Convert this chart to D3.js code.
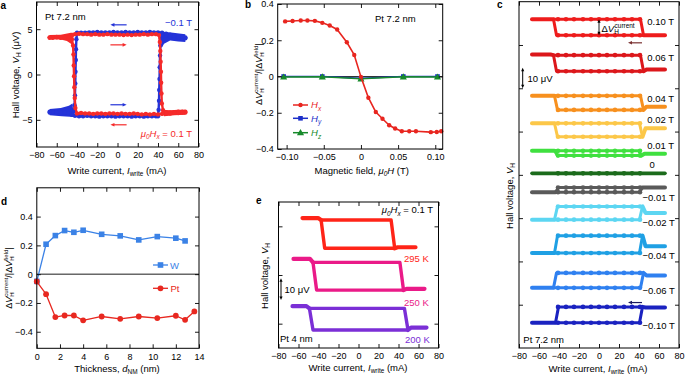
<!DOCTYPE html>
<html><head><meta charset="utf-8">
<script src="https://cdn.jsdelivr.net/npm/d3@7"></script>
<style>body{margin:0;background:#fff}</style>
</head><body><svg id="c" width="685" height="376"></svg>
<script>
// ---------------- DATA ----------------
// Panel a: Hall voltage (uV) vs write current (mA); red = +0.1 T, blue = -0.1 T
const aRedUp = [[-67,4.1],[-64,4.1],[-60,4.15],[-56,4.1],[-52,4.15],[-48,4.2],[-45,4.3],[-42,4.45],[-38,4.5],[-34,4.45],[-30,4.45],[-26,4.4],[-22,4.45],[-18,4.4],[-14,4.4],[-10,4.45],[-6,4.4],[-2,4.4],[2,4.4],[6,4.35],[10,4.4],[14,4.35],[18,4.4],[22,4.4],[26,4.45],[30,4.4],[34,4.45],[38,4.45],[41,4.35],[41.8,3.6],[42.3,2.6],[42.6,1.4],[42.9,0.3],[43.1,-0.9],[43.4,-2.1],[43.8,-3.2],[45,-3.95],[48,-4.2],[52,-4.2],[56,-4.15],[60,-4.1],[64,-4.1],[67,-4.1]];
const aRedDown = [[67,-4.2],[64,-4.2],[60,-4.25],[56,-4.2],[52,-4.3],[48,-4.3],[44,-4.35],[40,-4.4],[36,-4.35],[32,-4.4],[28,-4.35],[24,-4.4],[20,-4.35],[16,-4.3],[12,-4.35],[8,-4.35],[4,-4.3],[0,-4.35],[-4,-4.3],[-8,-4.3],[-12,-4.35],[-16,-4.3],[-20,-4.3],[-24,-4.35],[-28,-4.3],[-32,-4.3],[-36,-4.25],[-40,-4.3],[-41.6,-3.7],[-42.2,-2.6],[-42.6,-1.4],[-42.9,-0.2],[-43.2,1.0],[-43.5,2.2],[-43.9,3.2],[-45,3.9],[-48,4.05],[-52,4.1],[-56,4.05],[-60,4.1],[-64,4.05],[-67,4.05]];
const aBlueUp = [[-67,-4.1],[-64,-4.1],[-60,-4.15],[-56,-4.2],[-52,-4.25],[-48,-4.3],[-45,-4.45],[-42,-4.55],[-38,-4.6],[-34,-4.6],[-30,-4.55],[-26,-4.6],[-22,-4.6],[-18,-4.65],[-14,-4.6],[-10,-4.6],[-6,-4.6],[-2,-4.65],[2,-4.6],[6,-4.6],[10,-4.6],[14,-4.65],[18,-4.6],[22,-4.6],[26,-4.65],[30,-4.6],[34,-4.6],[38,-4.6],[40,-4.6],[40.6,-3.9],[41,-2.9],[41.2,-1.7],[41.5,-0.5],[41.7,0.8],[42,2.1],[42.3,3.2],[43,4.0],[45,4.4],[48,4.3],[52,4.2],[56,4.1],[60,4.05],[64,4.0],[67,4.0]];
const aBlueDown = [[67,4.1],[64,4.15],[60,4.2],[56,4.3],[52,4.4],[48,4.5],[44,4.6],[40,4.65],[36,4.65],[32,4.7],[28,4.65],[24,4.65],[20,4.7],[16,4.65],[12,4.65],[8,4.7],[4,4.65],[0,4.65],[-4,4.7],[-8,4.65],[-12,4.65],[-16,4.65],[-20,4.7],[-24,4.65],[-28,4.65],[-32,4.6],[-36,4.6],[-40,4.6],[-40.6,3.9],[-41,2.8],[-41.2,1.6],[-41.5,0.3],[-41.7,-1.0],[-42,-2.3],[-42.4,-3.4],[-43,-4.1],[-45,-4.35],[-48,-4.25],[-52,-4.2],[-56,-4.2],[-60,-4.15],[-64,-4.15],[-67,-4.2]];
const aRedFlare = [[-67,4.35],[-56,4.4],[-46,4.6],[-44,4.6],[-44.5,3.2],[-46,3.4],[-50,3.7],[-56,3.85],[-67,3.9]];
const aRedFlareR = [[44,-3.9],[52,-3.95],[60,-3.9],[67,-3.9],[67,-4.45],[56,-4.5],[46,-4.6]];
const aBlueFlare = [[43,4.75],[55,4.6],[67,4.45],[67,3.6],[60,3.65],[52,3.75],[46,3.4],[44,3.0]];
const aBlueFlareL = [[-67,-3.8],[-56,-3.7],[-48,-3.45],[-44.5,-3.2],[-43,-4.7],[-55,-4.6],[-67,-4.5]];
const aXTicks = [-80,-60,-40,-20,0,20,40,60,80];
const aYTicks = [-5,0,5];

// Panel b
const bHxField = [-0.102,-0.092,-0.081,-0.072,-0.062,-0.052,-0.042,-0.032,-0.019,-0.009,0.0,0.010,0.020,0.029,0.038,0.046,0.055,0.065,0.074,0.094,0.102,0.108];
const bHxRatio = [0.304,0.306,0.309,0.309,0.307,0.296,0.281,0.259,0.189,0.119,-0.002,-0.117,-0.196,-0.233,-0.269,-0.287,-0.302,-0.302,-0.302,-0.307,-0.306,-0.302];
const bHyField = [-0.104,-0.052,0.0,0.057,0.103];
const bHyRatio = [0.0,0.0,-0.01,0.0,0.0];
const bHzField = [-0.104,-0.052,0.0,0.057,0.103];
const bHzRatio = [-0.003,-0.002,-0.013,-0.002,-0.003];
const bXTicks = [-0.10,-0.05,0,0.05,0.10];
const bXLabels = ["\u22120.10","\u22120.05","0","0.05","0.10"];
const bYTicks = [-0.4,-0.2,0,0.2,0.4];

// Panel c
const cLabels = ["0.10 T","0.06 T","0.04 T","0.02 T","0.01 T","0","\u22120.01 T","\u22120.02 T","\u22120.04 T","\u22120.06 T","\u22120.10 T"];
const cColors = ["#ee1c1c","#dc171b","#f7901e","#fcc748","#3fe03f","#1b6b1b","#5a5a5a","#5cd6f2","#1fa0e4","#2f80f0","#1a22c0"];
const cTop = [71.9,55.3,36.5,23.8,11.1,0.7,-5.9,-14.6,-28.1,-45.3,-61.0];
const cBottom = [64.5,47.9,30.0,17.6,8.9,0.7,-8.0,-20.7,-36.1,-52.2,-68.3];
const cLeftTail = [71.9,55.6,36.5,23.8,11.1,0.7,-8.0,-20.7,-36.1,-52.2,-68.3];
const cRightTail = [64.5,48.7,31.5,21.5,9.7,0.7,-5.9,-17.6,-33.0,-46.5,-61.3];
const cSwL = [-44,-44,-43,-43,-43,0,-42,-43,-43,-44,-42];
const cSwR = [43,43,43,42,41,0,42,42,42,43,42];
const cDotI = [-41,-33,-25,-16,-8,0,8,16,25,33,41];
const cXTicks = [-80,-60,-40,-20,0,20,40,60,80];
const cYTicks = [-60,-40,-20,0,20,40,60];

// Panel d
const dThick = [0,0.8,1.6,2.4,3.2,4.0,5.6,7.2,8.8,10.4,12.0,12.8];
const dW = [-0.05,0.208,0.268,0.303,0.291,0.305,0.277,0.266,0.238,0.261,0.25,0.231];
const dThickPt = [0,0.8,1.6,2.4,3.2,4.0,5.6,7.2,8.8,10.4,12.0,12.8,13.6];
const dPt = [-0.051,-0.139,-0.298,-0.287,-0.287,-0.321,-0.294,-0.31,-0.294,-0.305,-0.289,-0.317,-0.259];
const dXTicks = [0,2,4,6,8,10,12,14];
const dYTicks = [-0.4,-0.2,0,0.2,0.4];

// Panel e
const eLabels = ["295 K","250 K","200 K"];
const eColors = ["#ff2418","#ea1a88","#7b2fd6"];
const eTop = [22.6,5.2,-13.7];
const eBottom = [11.0,-6.2,-22.6];
const eLeftTail = [23.4,6.6,-12.8];
const eRightTail = [11.4,-5.7,-21.6];
const eStart = [-56,-65,-66];
const eEnd = [57,66,68];
const eSwL = [-35.6,-43.7,-47.3];
const eSwR = [34.4,43.2,47.7];
const eXTicks = [-80,-60,-40,-20,0,20,40,60,80];
const eYTicks = [-20,0,20];

// ---------------- DRAWING ----------------
const FONT = '"Liberation Sans", Arial, Helvetica, sans-serif';
const svg = d3.select("#c");
svg.append("rect").attr("width",685).attr("height",376).attr("fill","#fff");
const fmtMinus = d => (d<0?"\u2212":"") + Math.abs(d);

function frame(x, y, o) {
  const g = svg.append("g");
  const [x0,x1] = x.range(), [y0,y1] = y.range();
  const ax = (gen, tr) => { const a = g.append("g").attr("transform",tr).call(gen);
    a.select(".domain").remove(); a.selectAll("line").attr("stroke","#000").attr("stroke-width",0.9);
    a.selectAll("text").attr("font-family",FONT).attr("font-size",9).attr("fill","#000"); return a; };
  ax(d3.axisBottom(x).tickValues(o.xTicks).tickFormat(o.xFmt).tickSizeInner(-4).tickSizeOuter(0).tickPadding(5), `translate(0,${y0})`);
  ax(d3.axisTop(x).tickValues(o.xTicks).tickFormat("").tickSizeInner(-4).tickSizeOuter(0), `translate(0,${y1})`);
  ax(d3.axisLeft(y).tickValues(o.yTicks).tickFormat(o.yFmt || (()=>"")).tickSizeInner(-4).tickSizeOuter(0).tickPadding(4), `translate(${x0},0)`);
  ax(d3.axisRight(y).tickValues(o.yTicks).tickFormat("").tickSizeInner(-4).tickSizeOuter(0), `translate(${x1},0)`);
  g.append("rect").attr("x",x0).attr("y",y1).attr("width",x1-x0).attr("height",y0-y1)
    .attr("fill","none").attr("stroke","#000").attr("stroke-width",1);
  return g;
}

function rich(x, y, parts, o={}) {
  const size = o.size || 9.5;
  const t = svg.append("text").attr("x",x).attr("y",y).attr("font-family",FONT).attr("font-size",size)
    .attr("fill",o.fill||"#000").attr("text-anchor",o.anchor||"start");
  if (o.rotate) t.attr("transform",`rotate(-90,${x},${y})`);
  if (o.bold) t.attr("font-weight","bold");
  if (o.central) t.attr("dominant-baseline","central");
  let shift = 0;
  parts.forEach(p => {
    if (typeof p === "string") p = {t:p};
    const s = t.append("tspan").text(p.t);
    const target = p.sub ? 2.4 : p.sup ? -3.6 : 0;
    if (target !== shift) { s.attr("dy", target - shift); shift = target; }
    if (p.sub || p.sup) s.attr("font-size", size*0.68);
    if (p.i) s.attr("font-style","italic");
    if (p.dx) s.attr("dx", p.dx);
  });
  return t;
}

function head(x, y, ang, color, s=4) {
  const c = Math.cos(ang), sn = Math.sin(ang);
  const p1 = [x - s*c + s*0.45*sn, y - s*sn - s*0.45*c];
  const p2 = [x - s*c - s*0.45*sn, y - s*sn + s*0.45*c];
  svg.append("path").attr("d",`M${x},${y}L${p1[0]},${p1[1]}L${p2[0]},${p2[1]}Z`).attr("fill",color);
}
function arrow(x1,y1,x2,y2,color,both,w=1.2,s=4) {
  const ang = Math.atan2(y2-y1,x2-x1), c=Math.cos(ang), sn=Math.sin(ang);
  svg.append("line").attr("x1",both?x1+c*s*0.8:x1).attr("y1",both?y1+sn*s*0.8:y1)
    .attr("x2",x2-c*s*0.8).attr("y2",y2-sn*s*0.8).attr("stroke",color).attr("stroke-width",w);
  head(x2,y2,ang,color,s);
  if (both) head(x1,y1,ang+Math.PI,color,s);
}

function trace(g, pts, x, y, color, w) {
  g.append("path").attr("d", d3.line().x(d=>x(d[0])).y(d=>y(d[1]))(pts))
    .attr("fill","none").attr("stroke",color).attr("stroke-width",w)
    .attr("stroke-linejoin","round").attr("stroke-linecap","round");
}
function dots(g, pts, x, y, color, r) {
  g.selectAll(null).data(pts).enter().append("circle")
    .attr("cx",d=>x(d[0])).attr("cy",d=>y(d[1])).attr("r",r).attr("fill",color);
}
function area(g, pts, x, y, color) {
  g.append("path").attr("d", d3.line().x(d=>x(d[0])).y(d=>y(d[1]))(pts)+"Z").attr("fill",color);
}

// ---------- Panel a ----------
{
  const x = d3.scaleLinear([-80,80],[36.5,198.5]);
  const y = d3.scaleLinear([-8,8],[147,2]);
  const g = svg.append("g");
  const blue = "#2433d8", red = "#f52a2a";
  area(g, aBlueFlare, x, y, blue); area(g, aBlueFlareL, x, y, blue);
  trace(g, aBlueUp, x, y, blue, 2.4); trace(g, aBlueDown, x, y, blue, 2.4);
  dots(g, aBlueUp.concat(aBlueDown), x, y, blue, 2.2);
  area(g, aRedFlare, x, y, red); area(g, aRedFlareR, x, y, red);
  trace(g, aRedUp, x, y, red, 2.4); trace(g, aRedDown, x, y, red, 2.4);
  dots(g, aRedUp.concat(aRedDown), x, y, red, 2.2);
  frame(x, y, {xTicks:aXTicks, xFmt:fmtMinus, yTicks:aYTicks, yFmt:fmtMinus});
  arrow(x(9), y(5.48), x(-7), y(5.48), blue);
  arrow(x(-7), y(3.27), x(9), y(3.27), red);
  arrow(x(-7), y(-3.34), x(9), y(-3.34), blue);
  arrow(x(9), y(-5.55), x(-7), y(-5.55), red);
  rich(45, 20, ["Pt 7.2 nm"]);
  rich(192, 26, ["\u22120.1 T"], {fill:blue, anchor:"end"});
  rich(192, 136.5, [{t:"\u03bc",i:true},{t:"0",sub:true,i:true},{t:"H",i:true},{t:"x",sub:true,i:true},{t:" = 0.1 T"}], {fill:red, anchor:"end"});
  rich(19, 75, ["Hall voltage, ",{t:"V",i:true},{t:"H",sub:true}," (\u03bcV)"], {rotate:true, anchor:"middle"});
  rich(117, 173.5, ["Write current, ",{t:"I",i:true},{t:"write",sub:true}," (mA)"], {anchor:"middle"});
  rich(0.5, 9, ["a"], {bold:true, size:10});
}

// ---------- Panel b ----------
{
  const x = d3.scaleLinear([-0.112,0.11],[277.7,442.7]);
  const y = d3.scaleLinear([-0.4,0.4],[149,4]);
  const g = svg.append("g");
  const red = "#e8251f", blue = "#1c2fc9", green = "#178a2b";
  g.append("line").attr("x1",x.range()[0]).attr("x2",x.range()[1]).attr("y1",y(0)).attr("y2",y(0)).attr("stroke","#000").attr("stroke-width",0.8);
  const hx = bHxField.map((f,i)=>[f,bHxRatio[i]]);
  const hy = bHyField.map((f,i)=>[f,bHyRatio[i]]);
  const hz = bHzField.map((f,i)=>[f,bHzRatio[i]]);
  trace(g, hy, x, y, blue, 1.5);
  g.selectAll(null).data(hy).enter().append("rect").attr("x",d=>x(d[0])-2.3).attr("y",d=>y(d[1])-2.3).attr("width",4.6).attr("height",4.6).attr("fill",blue);
  trace(g, hz, x, y, green, 1.5);
  g.selectAll(null).data(hz).enter().append("path").attr("d",d3.symbol(d3.symbolTriangle,22)).attr("transform",d=>`translate(${x(d[0])},${y(d[1])+0.5})`).attr("fill",green);
  trace(g, hx, x, y, red, 1.6);
  dots(g, hx, x, y, red, 2.2);
  frame(x, y, {xTicks:bXTicks, xFmt:(d,i)=>bXLabels[i], yTicks:bYTicks, yFmt:d=>d===0?"0":(d<0?"\u2212":"")+Math.abs(d).toFixed(1)});
  const leg = [["x",red,"c",105],["y",blue,"s",118.3],["z",green,"t",132.7]];
  leg.forEach(([s,col,m,ly])=>{
    svg.append("line").attr("x1",293).attr("x2",308).attr("y1",ly).attr("y2",ly).attr("stroke",col).attr("stroke-width",1.5);
    if (m==="c") svg.append("circle").attr("cx",300.5).attr("cy",ly).attr("r",2.2).attr("fill",col);
    if (m==="s") svg.append("rect").attr("x",298.2).attr("y",ly-2.3).attr("width",4.6).attr("height",4.6).attr("fill",col);
    if (m==="t") svg.append("path").attr("d",d3.symbol(d3.symbolTriangle,22)).attr("transform",`translate(300.5,${ly+0.5})`).attr("fill",col);
    rich(311, ly+3.4, [{t:"H",i:true},{t:s,sub:true,i:true}], {fill:col});
  });
  rich(375, 22, ["Pt 7.2 nm"]);
  rich(262, 74, ["\u0394",{t:"V",i:true},{t:"H",sub:true},{t:"current",sup:true,dx:-4.3},"/|\u0394",{t:"V",i:true},{t:"H",sub:true},{t:"field",sup:true,dx:-4.3},"|"], {rotate:true, anchor:"middle", size:9});
  rich(361.7, 173.5, ["Magnetic field, ",{t:"\u03bc",i:true},{t:"0",sub:true,i:true},{t:"H",i:true}," (T)"], {anchor:"middle"});
  rich(245, 8, ["b"], {bold:true, size:10});
}

// loop builder (data -> polylines)
function buildLoop(top,bottom,lt,rt,swL,swR,start,end,sl) {
  const positive = Math.abs(lt-top) <= Math.abs(lt-bottom);
  if (positive) return {
    loop:[[swL-sl,top],[swR-sl,top],[swR+sl,bottom],[swL+sl,bottom],[swL-sl,top]],
    tails:[[[start,lt],[swL-sl-3,lt],[swL-sl,top]],[[swR+sl,bottom],[swR+sl+3,rt],[end,rt]]]
  };
  return {
    loop:[[swL+sl,top],[swR+sl,top],[swR-sl,bottom],[swL-sl,bottom],[swL+sl,top]],
    tails:[[[start,lt],[swL-sl-3,lt],[swL-sl,bottom]],[[swR+sl,top],[swR+sl+3,rt],[end,rt]]]
  };
}

// ---------- Panel c ----------
{
  const x = d3.scaleLinear([-80,80],[519,679]);
  const y = d3.scaleLinear([-80,80],[348,1.7]);
  const g = svg.append("g");
  cLabels.forEach((lab,i)=>{
    const col = cColors[i];
    if (cTop[i] === cBottom[i]) {
      trace(g, [[-67,cTop[i]],[66,cTop[i]]], x, y, col, 3.6);
      dots(g, cDotI.map(v=>[v,cTop[i]]), x, y, col, 2.3);
    } else {
      const L = buildLoop(cTop[i],cBottom[i],cLeftTail[i],cRightTail[i],cSwL[i],cSwR[i],-67,66,1.5);
      L.tails.forEach(t=>trace(g, t, x, y, col, 4));
      trace(g, L.loop, x, y, col, 3);
      dots(g, cDotI.map(v=>[v,cTop[i]]).concat(cDotI.map(v=>[v,cBottom[i]])), x, y, col, 2.3);
    }
    const positive = i <= 5;
    const cy = positive ? Math.min(y(cTop[i]) + 2, y(cRightTail[i]) - 9)
                        : Math.max(y(cBottom[i]) + 2.5, y(cRightTail[i]) + 9);
    rich(i===5 ? 649.5 : (positive ? 647.3 : 642.5), cy, [lab], {central:true});
  });
  frame(x, y, {xTicks:cXTicks, xFmt:fmtMinus, yTicks:cYTicks});
  arrow(x(0), y(cTop[0]), x(0), y(cBottom[0]), "#000", true, 0.9, 3.5);
  rich(601.5, 31.5, ["\u0394",{t:"V",i:true},{t:"H",sub:true},{t:"current",sup:true,dx:-4.3}], {size:9.5});
  arrow(x(43), y(61), x(29), y(61), "#7a3030", false, 1.2, 4);
  arrow(x(43), y(-59), x(29), y(-59), "#1a1a60", false, 1.2, 4);
  arrow(522.7, 67.7, 522.7, 88.3, "#000", true, 1, 3.5);
  rich(527.5, 82, ["10 \u03bcV"]);
  rich(523.3, 343.3, ["Pt 7.2 nm"]);
  rich(513, 196, ["Hall voltage, ",{t:"V",i:true},{t:"H",sub:true}], {rotate:true, anchor:"middle"});
  rich(598, 372, ["Write current, ",{t:"I",i:true},{t:"write",sub:true}," (mA)"], {anchor:"middle"});
  rich(497, 8, ["c"], {bold:true, size:10});
}

// ---------- Panel d ----------
{
  const x = d3.scaleLinear([0,14],[36.8,199]);
  const y = d3.scaleLinear([-0.515,0.6],[348.3,187.8]);
  const g = svg.append("g");
  const blue = "#3b82e6", red = "#e82820";
  g.append("line").attr("x1",x.range()[0]).attr("x2",x.range()[1]).attr("y1",y(0)).attr("y2",y(0)).attr("stroke","#000").attr("stroke-width",0.9);
  const w = dThick.map((t,i)=>[t,dW[i]]);
  const p = dThickPt.map((t,i)=>[t,dPt[i]]);
  trace(g, w, x, y, blue, 1.3);
  g.selectAll(null).data(w).enter().append("rect").attr("x",d=>x(d[0])-2.8).attr("y",d=>y(d[1])-2.8).attr("width",5.6).attr("height",5.6).attr("fill",blue);
  trace(g, p, x, y, red, 1.3);
  dots(g, p, x, y, red, 2.9);
  frame(x, y, {xTicks:dXTicks, xFmt:d=>String(d), yTicks:dYTicks, yFmt:d=>d===0?"0":(d<0?"\u2212":"")+Math.abs(d).toFixed(1)});
  svg.append("line").attr("x1",153).attr("x2",168).attr("y1",265).attr("y2",265).attr("stroke",blue).attr("stroke-width",1.3);
  svg.append("rect").attr("x",157.7).attr("y",262.2).attr("width",5.6).attr("height",5.6).attr("fill",blue);
  rich(170, 268.6, ["W"], {fill:blue});
  svg.append("line").attr("x1",153).attr("x2",168).attr("y1",288.3).attr("y2",288.3).attr("stroke",red).attr("stroke-width",1.3);
  svg.append("circle").attr("cx",160.5).attr("cy",288.3).attr("r",2.9).attr("fill",red);
  rich(170.5, 291.9, ["Pt"], {fill:red});
  rich(11.5, 278, ["\u0394",{t:"V",i:true},{t:"H",sub:true},{t:"current",sup:true,dx:-4.3},"/|\u0394",{t:"V",i:true},{t:"H",sub:true},{t:"field",sup:true,dx:-4.3},"|"], {rotate:true, anchor:"middle", size:9});
  rich(117, 371.5, ["Thickness, ",{t:"d",i:true},{t:"NM",sub:true}," (nm)"], {anchor:"middle"});
  rich(1, 205, ["d"], {bold:true, size:10});
}

// ---------- Panel e ----------
{
  const x = d3.scaleLinear([-80,80],[278.5,438.5]);
  const y = d3.scaleLinear([-30,30],[348,202]);
  const g = svg.append("g");
  eLabels.forEach((lab,i)=>{
    const col = eColors[i];
    const L = buildLoop(eTop[i],eBottom[i],eLeftTail[i],eRightTail[i],eSwL[i],eSwR[i],eStart[i],eEnd[i],1.8);
    L.tails.forEach(t=>trace(g, t, x, y, col, 4.2));
    trace(g, L.loop, x, y, col, 3.4);
  });
  frame(x, y, {xTicks:eXTicks, xFmt:fmtMinus, yTicks:eYTicks});
  rich(433, 213.3, [{t:"\u03bc",i:true},{t:"0",sub:true,i:true},{t:"H",i:true},{t:"x",sub:true,i:true}," = 0.1 T"], {anchor:"end"});
  rich(404, 262.3, [eLabels[0]], {fill:eColors[0]});
  rich(404, 305.5, [eLabels[1]], {fill:eColors[1]});
  rich(405, 343.3, [eLabels[2]], {fill:eColors[2]});
  rich(280, 342.3, ["Pt 4 nm"]);
  arrow(281, 278.3, 281, 300, "#000", true, 1, 3.5);
  rich(284.5, 293, ["10 \u03bcV"]);
  rich(268, 276, ["Hall voltage, ",{t:"V",i:true},{t:"H",sub:true}], {rotate:true, anchor:"middle"});
  rich(358, 371, ["Write current, ",{t:"I",i:true},{t:"write",sub:true}," (mA)"], {anchor:"middle"});
  rich(256, 204, ["e"], {bold:true, size:10});
}
</script></body></html>
